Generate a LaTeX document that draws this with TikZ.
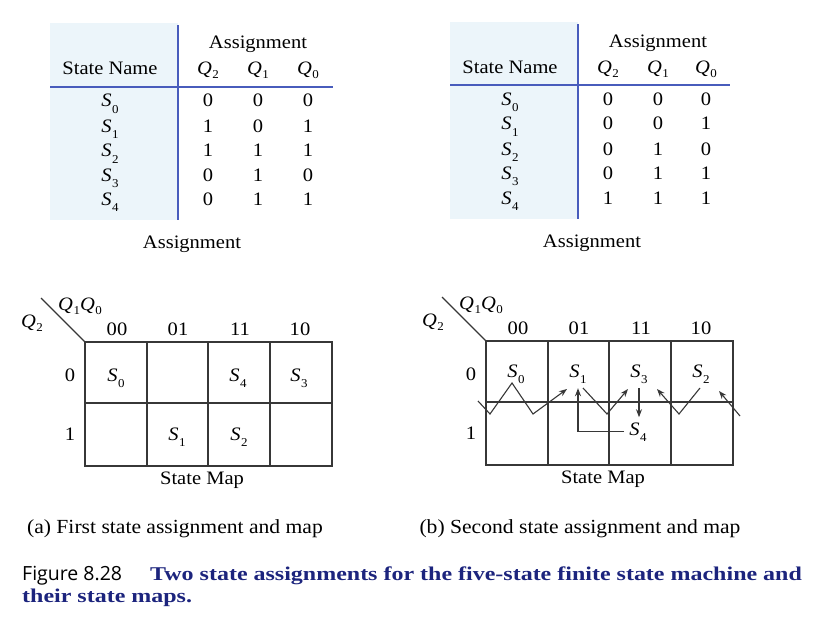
\documentclass[tikz,border=0pt]{standalone}
\usepackage{fontspec}
\setmainfont{Liberation Serif}[FakeStretch=1.08]
\newfontfamily\fignofont{Open Sans}
\newfontfamily\capserif{Liberation Serif}[FakeStretch=1.23]
\usetikzlibrary{arrows.meta}
\definecolor{tabline}{RGB}{72,92,188}
\definecolor{tabtint}{RGB}{236,245,250}
\definecolor{mapline}{RGB}{55,55,55}
\definecolor{capblue}{RGB}{28,36,125}
\newcommand{\Sv}[1]{\textit{S}\kern0.5pt\lower6pt\hbox{\fontsize{12}{12}\selectfont#1}}
\newcommand{\Qv}[1]{\textit{Q}\kern0.5pt\lower4pt\hbox{\fontsize{12}{12}\selectfont#1}}

\begin{document}
\begin{tikzpicture}[x=1pt,y=-1pt,
  txt/.style={anchor=base, inner sep=0pt, font=\fontsize{19}{22}\selectfont},
  st/.style={txt, inner sep=5pt},
  tabrule/.style={tabline, line width=1.4pt},
  mapln/.style={mapline, line width=1.3pt},
  flow/.style={mapline, line width=1.1pt, -{Stealth[length=8pt,width=6pt]}},
  subcap/.style={anchor=base, inner sep=0pt, font=\fontsize{20}{24}\selectfont}]
  \useasboundingbox (0,0) rectangle (816,623);

  % (a) first assignment table
  \fill[tabtint] (50,23) rectangle (178,220);
  \draw[tabrule] (178,25) -- (178,220);
  \draw[tabrule] (50,87) -- (333,87);
  \node[txt] (aHead) at (258,49) {Assignment};
  \node[txt] (aName) at (110,75) {State Name};
  \foreach \q/\x in {2/208,1/258,0/308}
    \node[txt] (aQ\q) at (\x,75) {\Qv{\q}};
  \foreach \s/\y/\qa/\qb/\qc in {0/107/0/0/0, 1/132/1/0/1, 2/157/1/1/1, 3/181/0/1/0, 4/205/0/1/1} {
    \node[txt] (aS\s) at (110,\y) {\Sv{\s}};
    \node[txt] (aS\s-2) at (208,\y) {\qa};
    \node[txt] (aS\s-1) at (258,\y) {\qb};
    \node[txt] (aS\s-0) at (308,\y) {\qc};
  }
  \node[txt] (aTab) at (192,248) {Assignment};

  % (b) second assignment table
  \begin{scope}[shift={(400,-1)}]
    \fill[tabtint] (50,23) rectangle (178,220);
    \draw[tabrule] (178,25) -- (178,220);
    \draw[tabrule] (50,86) -- (330,86);
    \node[txt] (bHead) at (258,49) {Assignment};
    \node[txt] (bName) at (110,75) {State Name};
    \foreach \q/\x in {2/208,1/258,0/306}
      \node[txt] (bQ\q) at (\x,75) {\Qv{\q}};
    \foreach \s/\y/\qa/\qb/\qc in {0/107/0/0/0, 1/131/0/0/1, 2/156/0/1/0, 3/180/0/1/1, 4/205/1/1/1} {
      \node[txt] (bS\s) at (110,\y) {\Sv{\s}};
      \node[txt] (bS\s-2) at (208,\y) {\qa};
      \node[txt] (bS\s-1) at (258,\y) {\qb};
      \node[txt] (bS\s-0) at (306,\y) {\qc};
    }
    \node[txt] (bTab) at (192,248) {Assignment};
  \end{scope}

  % state maps: frame, axes, labels
  \foreach \m/\dx/\dy in {a/0/0, b/401/-1} {
    \begin{scope}[shift={(\dx,\dy)}]
      \draw[mapln] (85,342) rectangle (332,466);
      \draw[mapln] (85,403) -- (332,403);
      \foreach \x in {147,208,270} \draw[mapln] (\x,342) -- (\x,466);
      \draw[mapln] (41,298) -- (85,342);
      \node[txt] (\m-Q10) at (80,310) {\Qv{1}\Qv{0}};
      \node[txt] (\m-Q2) at (32,327) {\Qv{2}};
      \foreach \cl/\x in {00/117,01/178,11/240,10/300}
        \node[txt] (\m-c\cl) at (\x,335) {\cl};
      \node[txt] (\m-r0) at (70,381) {0};
      \node[txt] (\m-r1) at (70,440) {1};
      \node[txt] (\m-map) at (202,484) {State Map};
    \end{scope}
  }

  % map (a) entries
  \node[st] (aM0) at (116,381) {\Sv{0}};
  \node[st] (aM4) at (238,381) {\Sv{4}};
  \node[st] (aM3) at (299,381) {\Sv{3}};
  \node[st] (aM1) at (177,440) {\Sv{1}};
  \node[st] (aM2) at (239,440) {\Sv{2}};

  % map (b) entries
  \node[st] (bM0) at (516,377) {\Sv{0}};
  \node[st] (bM1) at (578,377) {\Sv{1}};
  \node[st] (bM3) at (639,377) {\Sv{3}};
  \node[st] (bM2) at (701,377) {\Sv{2}};
  \node[st] (bM4) at (638,435) {\Sv{4}};

  % zigzag transitions in map (b)
  \coordinate (z1) at (478,401);
  \coordinate (z2) at (490,414);
  \coordinate (z3) at (512,383);
  \coordinate (z4) at (533,414);
  \coordinate (z5) at (567,389);
  \coordinate (z6) at (583,388);
  \coordinate (z7) at (607,414);
  \coordinate (z8) at (628,389);
  \coordinate (z9) at (700,388);
  \coordinate (z10) at (679,414);
  \coordinate (z11) at (657,389);
  \coordinate (z12) at (740,416);
  \coordinate (z13) at (719,391);
  \draw[flow] (z1) -- (z2) -- (z3) -- (z4) -- (z5);
  \draw[flow] (z6) -- (z7) -- (z8);
  \draw[flow] (z9) -- (z10) -- (z11);
  \draw[flow] (z12) -- (z13);
  \draw[flow] (bM3.south) -- (bM3.south |- bM4.north);
  \draw[flow] (bM4.west) -| (bM1.south);

  % captions
  \node[subcap] (capA) at (175,533) {(a) First state assignment and map};
  \node[subcap] (capB) at (580,533) {(b) Second state assignment and map};
  \node[anchor=base west, inner sep=0pt, font=\fignofont\fontsize{19.5}{22}\selectfont] (figNum) at (22,580) {Figure 8.28};
  \node[anchor=base west, inner sep=0pt, text=capblue, font=\capserif\bfseries\fontsize{19.5}{22}\selectfont] (figTitle) at (150,580) {Two state assignments for the five-state finite state machine and};
  \node[anchor=base west, inner sep=0pt, text=capblue, font=\capserif\bfseries\fontsize{19.5}{22}\selectfont] (figTitle2) at (22,602) {their state maps.};
\end{tikzpicture}
\end{document}
